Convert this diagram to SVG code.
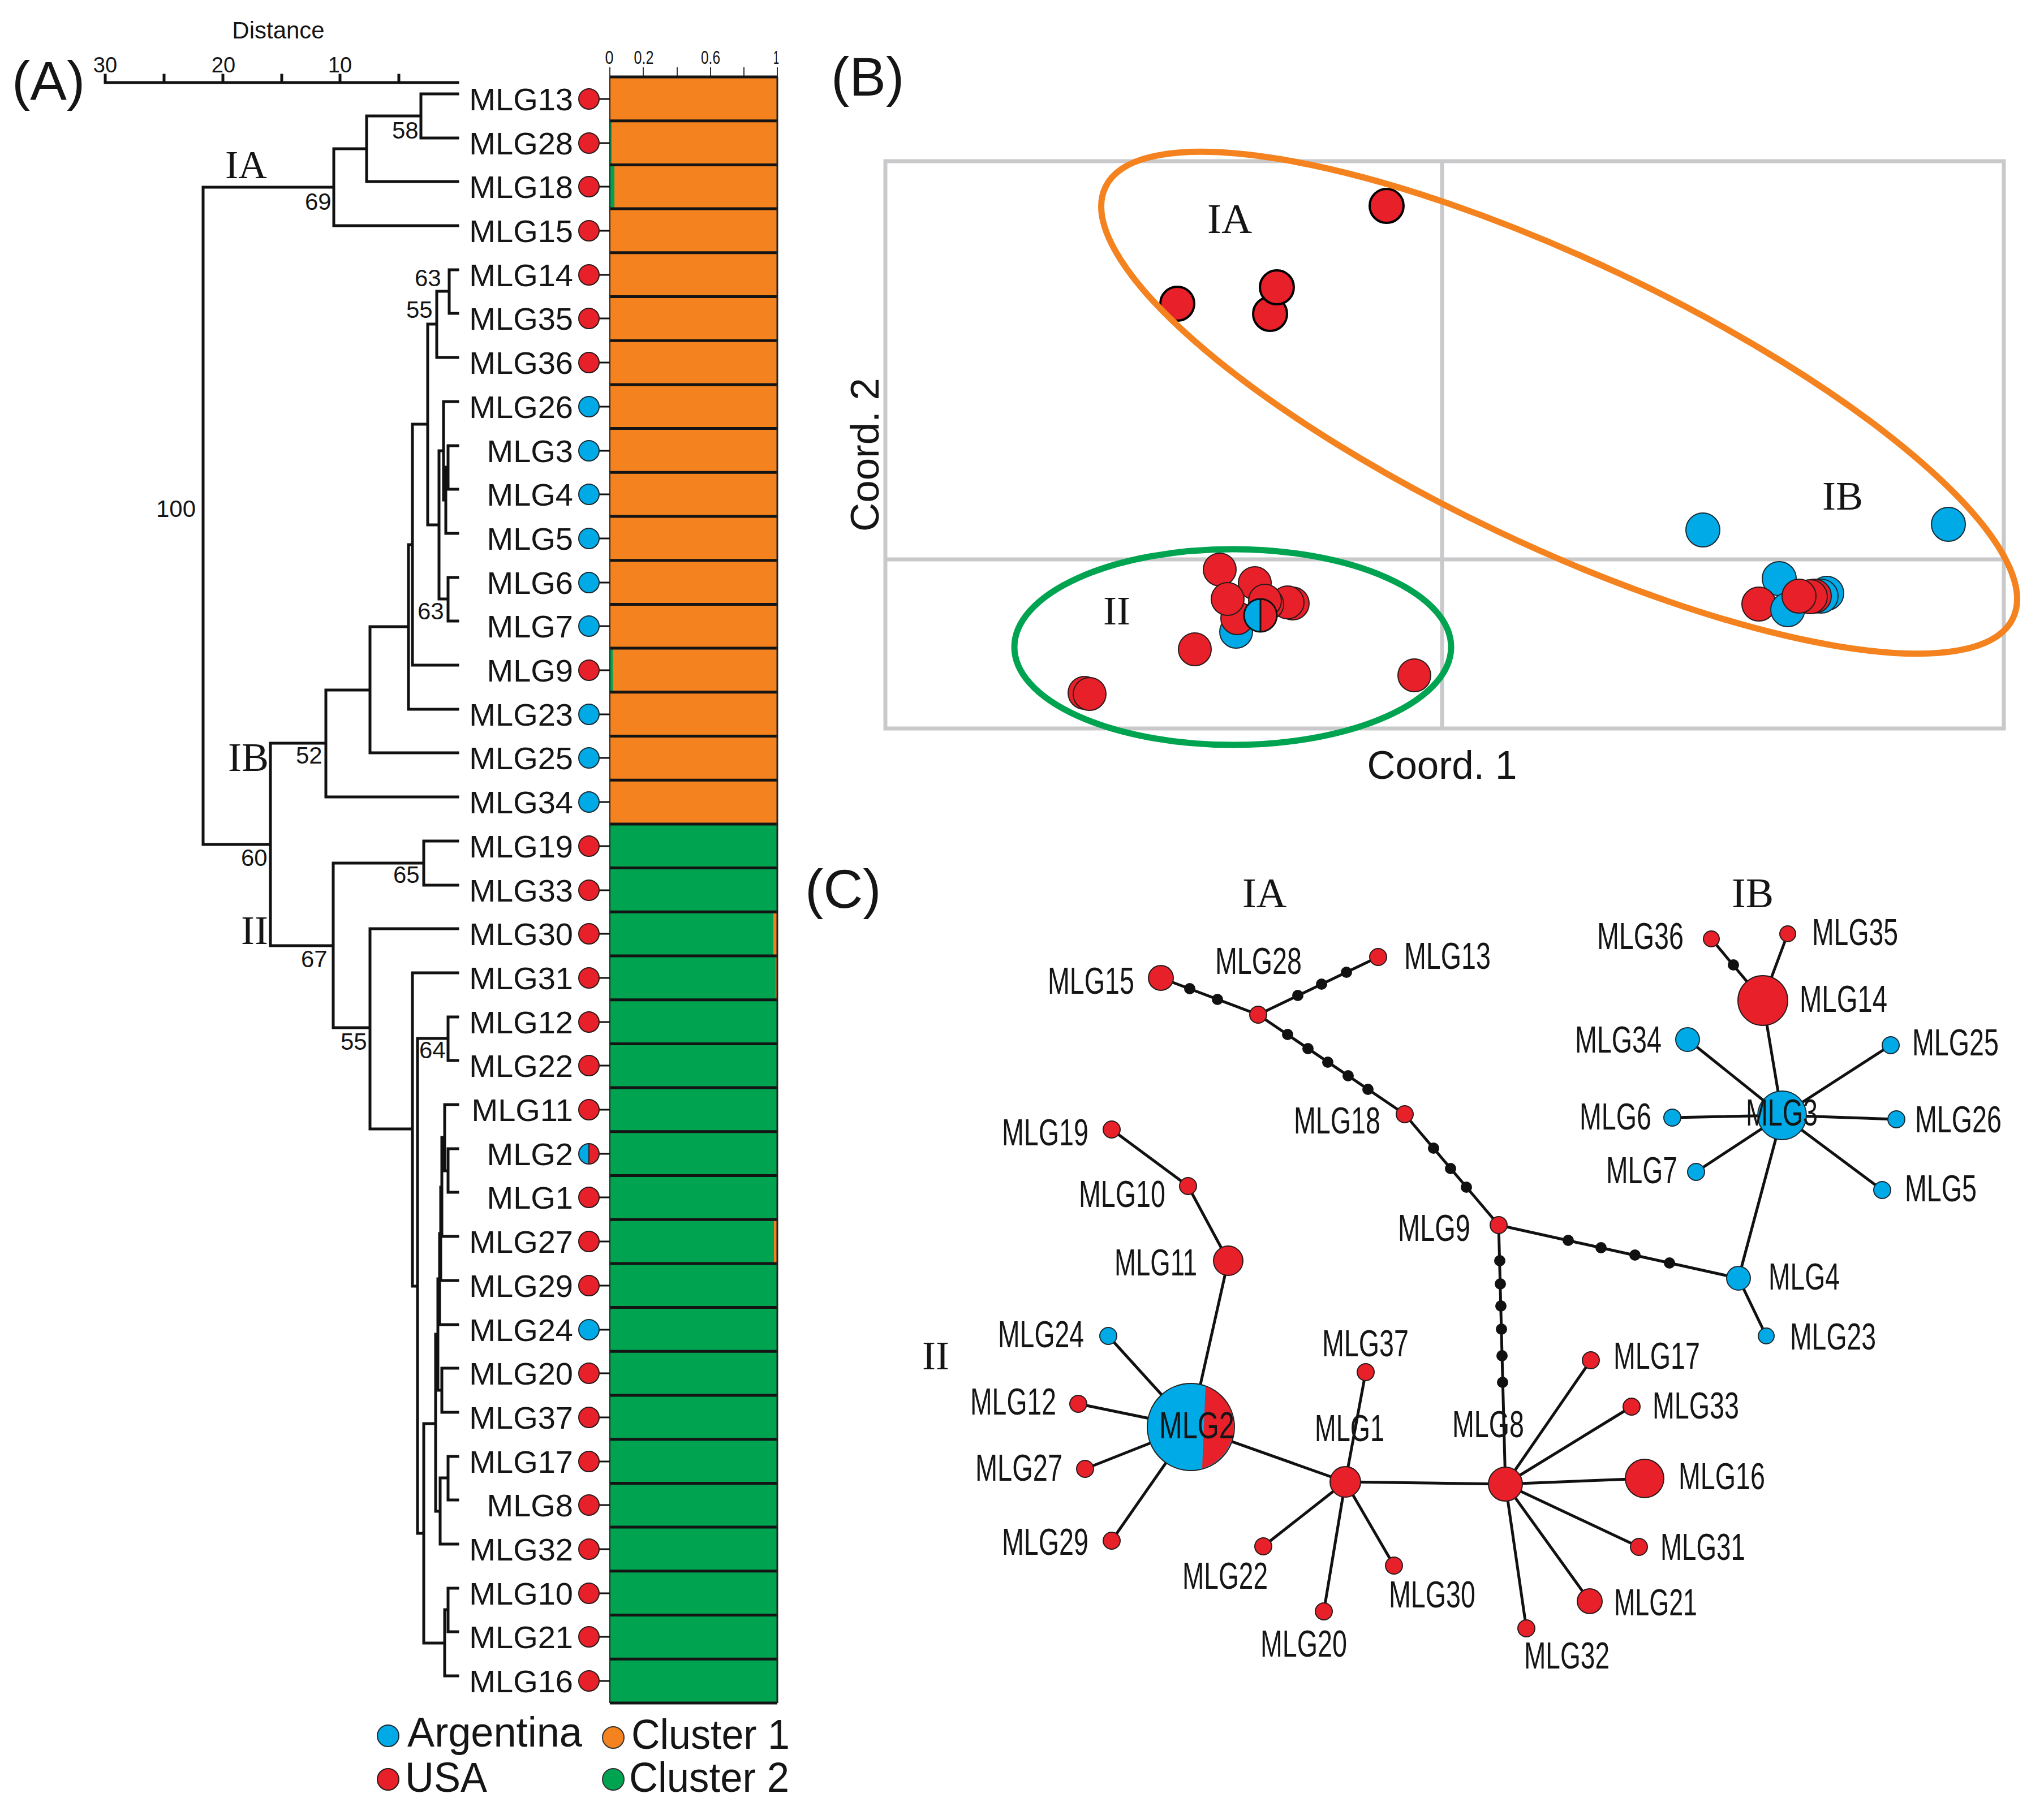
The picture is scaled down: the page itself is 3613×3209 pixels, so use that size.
<svg xmlns="http://www.w3.org/2000/svg" width="3613" height="3209" viewBox="0 0 3613 3209">
<style>
text{fill:#151515}
.s{font-family:"Liberation Sans",Arial,sans-serif}
.f{font-family:"Liberation Serif","Times New Roman",serif}
.lab{font-family:"Liberation Sans",Arial,sans-serif;font-size:56px;text-anchor:end}
.bs{font-family:"Liberation Sans",Arial,sans-serif;font-size:42px}
.c{font-family:"Liberation Sans",Arial,sans-serif;font-size:67px}
.r{fill:#E8202A;stroke:#2a1a1a;stroke-width:2}
.b{fill:#00AAE6;stroke:#1a2a33;stroke-width:2}
.o{fill:#F3821F;stroke:#333;stroke-width:2}
.g{fill:#00A350;stroke:#333;stroke-width:2}
.k{fill:#111}
.tree{fill:none;stroke:#111;stroke-width:5;stroke-linecap:square}
.e{stroke:#111;stroke-width:5;fill:none}
.tk{stroke:#111;stroke-width:3}
.grid{fill:none;stroke:#C9C9CB;stroke-width:7}
.ia{stroke:#000;stroke-width:4}
</style>
<rect width="3613" height="3209" fill="#fff"/>

<!-- ================= PANEL A ================= -->
<g id="panelA">
<text class="s" x="21" y="176" font-size="97">(A)</text>
<text class="s" x="492" y="68" font-size="42" text-anchor="middle">Distance</text>
<g id="distance-axis">
<path class="tree" stroke-width="4" d="M186 146H809 M186 133V146 M290 133V146 M394 133V146 M498 133V146 M601 133V146 M705 133V146"/>
<text class="s" x="186" y="128" font-size="38" text-anchor="middle">30</text>
<text class="s" x="395" y="128" font-size="38" text-anchor="middle">20</text>
<text class="s" x="601" y="128" font-size="38" text-anchor="middle">10</text>
</g>
<g id="bar-axis">
<path d="M1078 137H1374 M1078 119V137 M1137 119V137 M1197 119V137 M1256 119V137 M1315 119V137 M1374 119V137" stroke="#333" stroke-width="2" fill="none"/>
<text class="s" x="1077" y="113" font-size="34" text-anchor="middle" textLength="15" lengthAdjust="spacingAndGlyphs">0</text>
<text class="s" x="1138" y="113" font-size="34" text-anchor="middle" textLength="35" lengthAdjust="spacingAndGlyphs">0.2</text>
<text class="s" x="1256" y="113" font-size="34" text-anchor="middle" textLength="34" lengthAdjust="spacingAndGlyphs">0.6</text>
<text class="s" x="1372" y="113" font-size="34" text-anchor="middle" textLength="10" lengthAdjust="spacingAndGlyphs">1</text>
</g>

<g id="dendrogram">
<path class="tree" d="
M744 166V244 M744 166H809 M744 244H809
M648 205V321 M648 205H744 M648 321H809
M590 263V399 M590 263H648 M590 399H809
M359 331V1493 M359 331H590 M359 1493H478
M794 477V554 M794 477H809 M794 554H809
M772 515V632 M772 515H794 M772 632H809
M792 788V865 M792 788H809 M792 865H809
M788 826V943 M788 826H792 M788 943H809
M784 710V884 M784 710H809 M784 884H788
M792 1021V1098 M792 1021H809 M792 1098H809
M776 797V1059 M776 797H784 M776 1059H792
M756 573V928 M756 573H772 M756 928H776
M729 750V1176 M729 750H756 M729 1176H809
M722 963V1254 M722 963H729 M722 1254H809
M654 1108V1331 M654 1108H722 M654 1331H809
M576 1220V1409 M576 1220H654 M576 1409H809
M478 1314V1672 M478 1314H576 M478 1672H589
M749 1487V1565 M749 1487H809 M749 1565H809
M589 1526V1817 M589 1526H749 M589 1817H654
M654 1642V1996 M654 1642H809 M654 1996H729
M729 1720V2274 M729 1720H809 M729 2274H738
M792 1798V1875 M792 1798H809 M792 1875H809
M738 1836V2711 M738 1836H792 M738 2711H749
M749 2517V2905 M749 2517H770 M749 2905H786
M770 2359V2672 M770 2359H774 M770 2672H778
M792 2031V2108 M792 2031H809 M792 2108H809
M786 1953V2070 M786 1953H809 M786 2070H792
M781 2011V2186 M781 2011H786 M781 2186H809
M779 2099V2264 M779 2099H781 M779 2264H809
M777 2181V2342 M777 2181H779 M777 2342H809
M781 2419V2497 M781 2419H809 M781 2497H809
M774 2261V2458 M774 2261H777 M774 2458H781
M792 2575V2652 M792 2575H809 M792 2652H809
M778 2613V2730 M778 2613H792 M778 2730H809
M792 2808V2885 M792 2808H809 M792 2885H809
M786 2846V2963 M786 2846H792 M786 2963H809"/>
<text class="bs" x="693" y="245">58</text>
<text class="bs" x="539" y="371">69</text>
<text class="bs" x="733" y="506">63</text>
<text class="bs" x="718" y="562">55</text>
<text class="bs" x="276" y="914">100</text>
<text class="bs" x="738" y="1095">63</text>
<text class="bs" x="523" y="1350">52</text>
<text class="bs" x="426" y="1531">60</text>
<text class="bs" x="695" y="1561">65</text>
<text class="bs" x="532" y="1710">67</text>
<text class="bs" x="602" y="1856">55</text>
<text class="bs" x="741" y="1871">64</text>
<text class="f" x="398" y="315" font-size="70">IA</text>
<text class="f" x="403" y="1363" font-size="72">IB</text>
<text class="f" x="426" y="1669" font-size="72">II</text>
</g>

<g id="structure-bars">
<rect x="1078" y="136" width="296" height="1320.9" fill="#F3821F"/>
<rect x="1078" y="1456.9" width="296" height="1554" fill="#00A350"/>
<rect x="1078" y="213.7" width="3" height="77.7" fill="#00A350"/>
<rect x="1078" y="291.4" width="8" height="77.7" fill="#00A350"/>
<rect x="1078" y="1146.1" width="5" height="77.7" fill="#00A350"/>
<rect x="1367" y="1612.3" width="7" height="77.7" fill="#F3821F"/>
<rect x="1371" y="1690" width="3" height="77.7" fill="#F3821F"/>
<rect x="1368" y="2156.2" width="6" height="77.7" fill="#F3821F"/>
<path d="M1078 136H1374 M1078 213.7H1374 M1078 291.4H1374 M1078 369.1H1374 M1078 446.8H1374 M1078 524.5H1374 M1078 602.2H1374 M1078 679.9H1374 M1078 757.6H1374 M1078 835.3H1374 M1078 913H1374 M1078 990.7H1374 M1078 1068.4H1374 M1078 1146.1H1374 M1078 1223.8H1374 M1078 1301.5H1374 M1078 1379.2H1374 M1078 1456.9H1374 M1078 1534.6H1374 M1078 1612.3H1374 M1078 1690H1374 M1078 1767.7H1374 M1078 1845.4H1374 M1078 1923.1H1374 M1078 2000.8H1374 M1078 2078.5H1374 M1078 2156.2H1374 M1078 2233.9H1374 M1078 2311.6H1374 M1078 2389.3H1374 M1078 2467H1374 M1078 2544.7H1374 M1078 2622.4H1374 M1078 2700.1H1374 M1078 2777.8H1374 M1078 2855.5H1374 M1078 2933.2H1374 M1078 3010.9H1374" stroke="#141414" stroke-width="5" fill="none"/>
<path d="M1078 136V3011" stroke="#222" stroke-width="2"/>
<path d="M1374 136V3011" stroke="#222" stroke-width="3"/>
</g>

<g id="leaf-ticks">
<path class="tk" d="M1059 175H1078 M1059 253H1078 M1059 330H1078 M1059 408H1078 M1059 486H1078 M1059 563H1078 M1059 641H1078 M1059 719H1078 M1059 797H1078 M1059 874H1078 M1059 952H1078 M1059 1030H1078 M1059 1107H1078 M1059 1185H1078 M1059 1263H1078 M1059 1340H1078 M1059 1418H1078 M1059 1496H1078 M1059 1574H1078 M1059 1651H1078 M1059 1729H1078 M1059 1807H1078 M1059 1884H1078 M1059 1962H1078 M1059 2040H1078 M1059 2117H1078 M1059 2195H1078 M1059 2273H1078 M1059 2351H1078 M1059 2428H1078 M1059 2506H1078 M1059 2584H1078 M1059 2661H1078 M1059 2739H1078 M1059 2817H1078 M1059 2894H1078 M1059 2972H1078"/>
</g>

<g id="A-MLG13"><text class="lab" x="1013" y="195">MLG13</text><circle class="r" cx="1041" cy="175" r="18"/></g>
<g id="A-MLG28"><text class="lab" x="1013" y="273">MLG28</text><circle class="r" cx="1041" cy="253" r="18"/></g>
<g id="A-MLG18"><text class="lab" x="1013" y="350">MLG18</text><circle class="r" cx="1041" cy="330" r="18"/></g>
<g id="A-MLG15"><text class="lab" x="1013" y="428">MLG15</text><circle class="r" cx="1041" cy="408" r="18"/></g>
<g id="A-MLG14"><text class="lab" x="1013" y="506">MLG14</text><circle class="r" cx="1041" cy="486" r="18"/></g>
<g id="A-MLG35"><text class="lab" x="1013" y="583">MLG35</text><circle class="r" cx="1041" cy="563" r="18"/></g>
<g id="A-MLG36"><text class="lab" x="1013" y="661">MLG36</text><circle class="r" cx="1041" cy="641" r="18"/></g>
<g id="A-MLG26"><text class="lab" x="1013" y="739">MLG26</text><circle class="b" cx="1041" cy="719" r="18"/></g>
<g id="A-MLG3"><text class="lab" x="1013" y="817">MLG3</text><circle class="b" cx="1041" cy="797" r="18"/></g>
<g id="A-MLG4"><text class="lab" x="1013" y="894">MLG4</text><circle class="b" cx="1041" cy="874" r="18"/></g>
<g id="A-MLG5"><text class="lab" x="1013" y="972">MLG5</text><circle class="b" cx="1041" cy="952" r="18"/></g>
<g id="A-MLG6"><text class="lab" x="1013" y="1050">MLG6</text><circle class="b" cx="1041" cy="1030" r="18"/></g>
<g id="A-MLG7"><text class="lab" x="1013" y="1127">MLG7</text><circle class="b" cx="1041" cy="1107" r="18"/></g>
<g id="A-MLG9"><text class="lab" x="1013" y="1205">MLG9</text><circle class="r" cx="1041" cy="1185" r="18"/></g>
<g id="A-MLG23"><text class="lab" x="1013" y="1283">MLG23</text><circle class="b" cx="1041" cy="1263" r="18"/></g>
<g id="A-MLG25"><text class="lab" x="1013" y="1360">MLG25</text><circle class="b" cx="1041" cy="1340" r="18"/></g>
<g id="A-MLG34"><text class="lab" x="1013" y="1438">MLG34</text><circle class="b" cx="1041" cy="1418" r="18"/></g>
<g id="A-MLG19"><text class="lab" x="1013" y="1516">MLG19</text><circle class="r" cx="1041" cy="1496" r="18"/></g>
<g id="A-MLG33"><text class="lab" x="1013" y="1594">MLG33</text><circle class="r" cx="1041" cy="1574" r="18"/></g>
<g id="A-MLG30"><text class="lab" x="1013" y="1671">MLG30</text><circle class="r" cx="1041" cy="1651" r="18"/></g>
<g id="A-MLG31"><text class="lab" x="1013" y="1749">MLG31</text><circle class="r" cx="1041" cy="1729" r="18"/></g>
<g id="A-MLG12"><text class="lab" x="1013" y="1827">MLG12</text><circle class="r" cx="1041" cy="1807" r="18"/></g>
<g id="A-MLG22"><text class="lab" x="1013" y="1904">MLG22</text><circle class="r" cx="1041" cy="1884" r="18"/></g>
<g id="A-MLG11"><text class="lab" x="1013" y="1982">MLG11</text><circle class="r" cx="1041" cy="1962" r="18"/></g>
<g id="A-MLG2"><text class="lab" x="1013" y="2060">MLG2</text>
<path d="M1041 2022A18 18 0 0 0 1041 2058Z" fill="#00AAE6"/>
<path d="M1041 2022A18 18 0 0 1 1041 2058Z" fill="#E8202A"/>
<path d="M1041 2022V2058" stroke="#222" stroke-width="2"/>
<circle cx="1041" cy="2040" r="18" fill="none" stroke="#222" stroke-width="2"/></g>
<g id="A-MLG1"><text class="lab" x="1013" y="2137">MLG1</text><circle class="r" cx="1041" cy="2117" r="18"/></g>
<g id="A-MLG27"><text class="lab" x="1013" y="2215">MLG27</text><circle class="r" cx="1041" cy="2195" r="18"/></g>
<g id="A-MLG29"><text class="lab" x="1013" y="2293">MLG29</text><circle class="r" cx="1041" cy="2273" r="18"/></g>
<g id="A-MLG24"><text class="lab" x="1013" y="2371">MLG24</text><circle class="b" cx="1041" cy="2351" r="18"/></g>
<g id="A-MLG20"><text class="lab" x="1013" y="2448">MLG20</text><circle class="r" cx="1041" cy="2428" r="18"/></g>
<g id="A-MLG37"><text class="lab" x="1013" y="2526">MLG37</text><circle class="r" cx="1041" cy="2506" r="18"/></g>
<g id="A-MLG17"><text class="lab" x="1013" y="2604">MLG17</text><circle class="r" cx="1041" cy="2584" r="18"/></g>
<g id="A-MLG8"><text class="lab" x="1013" y="2681">MLG8</text><circle class="r" cx="1041" cy="2661" r="18"/></g>
<g id="A-MLG32"><text class="lab" x="1013" y="2759">MLG32</text><circle class="r" cx="1041" cy="2739" r="18"/></g>
<g id="A-MLG10"><text class="lab" x="1013" y="2837">MLG10</text><circle class="r" cx="1041" cy="2817" r="18"/></g>
<g id="A-MLG21"><text class="lab" x="1013" y="2914">MLG21</text><circle class="r" cx="1041" cy="2894" r="18"/></g>
<g id="A-MLG16"><text class="lab" x="1013" y="2992">MLG16</text><circle class="r" cx="1041" cy="2972" r="18"/></g>

<g id="legend">
<circle class="b" cx="686" cy="3069" r="19"/>
<text class="s" x="720" y="3088" font-size="74" textLength="309" lengthAdjust="spacingAndGlyphs">Argentina</text>
<circle class="r" cx="686" cy="3146" r="19"/>
<text class="s" x="716" y="3168" font-size="74" textLength="145" lengthAdjust="spacingAndGlyphs">USA</text>
<circle class="o" cx="1084" cy="3072" r="19"/>
<text class="s" x="1116" y="3092" font-size="74" textLength="280" lengthAdjust="spacingAndGlyphs">Cluster 1</text>
<circle class="g" cx="1084" cy="3146" r="19"/>
<text class="s" x="1112" y="3168" font-size="74" textLength="283" lengthAdjust="spacingAndGlyphs">Cluster 2</text>
</g>
</g>

<!-- ================= PANEL B ================= -->
<g id="panelB">
<text class="s" x="1469" y="169" font-size="97">(B)</text>
<rect class="grid" x="1565" y="285" width="1977" height="1003"/>
<path class="grid" d="M2549 285V1288 M1565 989H3542"/>
<text class="s" transform="translate(1553 804) rotate(-90)" font-size="70" text-anchor="middle" textLength="272" lengthAdjust="spacingAndGlyphs">Coord. 2</text>
<text class="s" x="2549" y="1377" font-size="70" text-anchor="middle" textLength="265" lengthAdjust="spacingAndGlyphs">Coord. 1</text>
<g id="B-IA-points">
<circle class="r ia" cx="2451" cy="364" r="30"/>
<circle class="r ia" cx="2081" cy="537" r="30"/>
<circle class="r ia" cx="2245" cy="555" r="30"/>
<circle class="r ia" cx="2257" cy="508" r="30"/>
</g>
<g id="B-IB-points">
<circle class="b" cx="3010" cy="937" r="30"/>
<circle class="b" cx="3444" cy="927" r="30"/>
<circle class="b" cx="3145" cy="1023" r="30"/>
<circle class="b" cx="3229" cy="1049" r="30"/>
<circle class="b" cx="3219" cy="1054" r="30"/>
<circle class="r" cx="3109" cy="1068" r="30"/>
<circle class="b" cx="3160" cy="1078" r="30"/>
<circle class="r" cx="3207" cy="1054" r="30"/>
<circle class="r" cx="3200" cy="1055" r="30"/>
<circle class="r" cx="3180" cy="1054" r="30"/>
</g>
<g id="B-II-points">
<circle class="r" cx="2156" cy="1007" r="29"/>
<circle class="r" cx="2218" cy="1031" r="29"/>
<circle class="r" cx="2285" cy="1067" r="29"/>
<circle class="r" cx="2276" cy="1065" r="29"/>
<circle class="b" cx="2185" cy="1117" r="29"/>
<circle class="r" cx="2187" cy="1093" r="29"/>
<circle class="r" cx="2170" cy="1059" r="29"/>
<circle class="r" cx="2240" cy="1068" r="29"/>
<circle class="r" cx="2236" cy="1062" r="29"/>
<g id="B-half">
<path d="M2228 1059A29 29 0 0 0 2228 1117Z" fill="#00AAE6"/>
<path d="M2228 1059A29 29 0 0 1 2228 1117Z" fill="#E8202A"/>
<path d="M2228 1059V1117" stroke="#111" stroke-width="3"/>
<circle cx="2228" cy="1088" r="29" fill="none" stroke="#111" stroke-width="3"/>
</g>
<circle class="r" cx="2112" cy="1148" r="29"/>
<circle class="r" cx="2500" cy="1194" r="29"/>
<circle class="r" cx="1917" cy="1225" r="29"/>
<circle class="r" cx="1926" cy="1227" r="29"/>
</g>
<ellipse cx="2756" cy="712" rx="888" ry="252" transform="rotate(25.4 2756 712)" fill="none" stroke="#F3821F" stroke-width="11"/>
<ellipse cx="2179" cy="1144" rx="386" ry="173" fill="none" stroke="#00A350" stroke-width="11"/>
<text class="f" x="2134" y="412" font-size="75">IA</text>
<text class="f" x="3221" y="901" font-size="72">IB</text>
<text class="f" x="1950" y="1104" font-size="72">II</text>
</g>

<!-- ================= PANEL C ================= -->
<g id="panelC">
<text class="s" x="1423" y="1605" font-size="97">(C)</text>
<text class="f" x="2196" y="1604" font-size="74">IA</text>
<text class="f" x="3061" y="1604" font-size="74">IB</text>
<text class="f" x="1630" y="2421" font-size="72">II</text>

<g id="connectors">
<path class="e" d="
M2052 1729L2224 1794 M2224 1794L2436 1692 M2224 1794L2483 1970 M2483 1970L2649 2166
M2649 2166L3073 2260 M2649 2166L2661 2624
M3073 2260L3150 1972 M3073 2260L3122 2362
M3150 1972L3116 1769 M3150 1972L2983 1838 M3150 1972L3342 1848 M3150 1972L2956 1976
M3150 1972L3352 1979 M3150 1972L2998 2072 M3150 1972L3327 2104
M3116 1769L3025 1660 M3116 1769L3160 1651
M1965 1997L2100 2097 M2100 2097L2171 2229 M2171 2229L2105 2523
M2105 2523L1959 2362 M2105 2523L1906 2482 M2105 2523L1918 2597 M2105 2523L1965 2724
M2105 2523L2378 2620
M2378 2620L2414 2426 M2378 2620L2233 2734 M2378 2620L2340 2849 M2378 2620L2464 2768
M2378 2620L2661 2624
M2661 2624L2812 2405 M2661 2624L2884 2487 M2661 2624L2907 2614 M2661 2624L2897 2735
M2661 2624L2810 2831 M2661 2624L2698 2879"/>
<g id="mutation-steps" class="k">
<circle cx="2103" cy="1748" r="10"/><circle cx="2152" cy="1767" r="10"/>
<circle cx="2294" cy="1760" r="10"/><circle cx="2336" cy="1740" r="10"/><circle cx="2380" cy="1719" r="10"/>
<circle cx="2276" cy="1829" r="10"/><circle cx="2312" cy="1854" r="10"/><circle cx="2347" cy="1878" r="10"/><circle cx="2383" cy="1902" r="10"/><circle cx="2418" cy="1926" r="10"/>
<circle cx="2534" cy="2030" r="10"/><circle cx="2564" cy="2066" r="10"/><circle cx="2592" cy="2099" r="10"/>
<circle cx="2772" cy="2193" r="10"/><circle cx="2830" cy="2206" r="10"/><circle cx="2890" cy="2219" r="10"/><circle cx="2951" cy="2233" r="10"/>
<circle cx="2651" cy="2229" r="10"/><circle cx="2652" cy="2270" r="10"/><circle cx="2653" cy="2309" r="10"/><circle cx="2654" cy="2350" r="10"/><circle cx="2655" cy="2397" r="10"/><circle cx="2656" cy="2444" r="10"/>
<circle cx="3064" cy="1706" r="10"/>
</g>
</g>

<g id="C-MLG15"><circle class="r" cx="2052" cy="1729" r="22"/><text class="c" x="1852" y="1757" textLength="153" lengthAdjust="spacingAndGlyphs">MLG15</text></g>
<g id="C-MLG28"><circle class="r" cx="2224" cy="1794" r="15"/><text class="c" x="2148" y="1722" textLength="153" lengthAdjust="spacingAndGlyphs">MLG28</text></g>
<g id="C-MLG13"><circle class="r" cx="2436" cy="1692" r="15"/><text class="c" x="2482" y="1713" textLength="153" lengthAdjust="spacingAndGlyphs">MLG13</text></g>
<g id="C-MLG18"><circle class="r" cx="2483" cy="1970" r="15"/><text class="c" x="2287" y="2004" textLength="153" lengthAdjust="spacingAndGlyphs">MLG18</text></g>
<g id="C-MLG9"><circle class="r" cx="2649" cy="2166" r="15"/><text class="c" x="2471" y="2194" textLength="128" lengthAdjust="spacingAndGlyphs">MLG9</text></g>
<g id="C-MLG4"><circle class="b" cx="3073" cy="2260" r="21"/><text class="c" x="3126" y="2280" textLength="126" lengthAdjust="spacingAndGlyphs">MLG4</text></g>
<g id="C-MLG23"><circle class="b" cx="3122" cy="2362" r="14"/><text class="c" x="3164" y="2386" textLength="152" lengthAdjust="spacingAndGlyphs">MLG23</text></g>
<g id="C-MLG14"><circle class="r" cx="3116" cy="1769" r="44"/><text class="c" x="3181" y="1789" textLength="155" lengthAdjust="spacingAndGlyphs">MLG14</text></g>
<g id="C-MLG36"><circle class="r" cx="3025" cy="1660" r="14"/><text class="c" x="2823" y="1678" textLength="153" lengthAdjust="spacingAndGlyphs">MLG36</text></g>
<g id="C-MLG35"><circle class="r" cx="3160" cy="1651" r="14"/><text class="c" x="3203" y="1671" textLength="152" lengthAdjust="spacingAndGlyphs">MLG35</text></g>
<g id="C-MLG34"><circle class="b" cx="2983" cy="1838" r="21"/><text class="c" x="2784" y="1861" textLength="153" lengthAdjust="spacingAndGlyphs">MLG34</text></g>
<g id="C-MLG25"><circle class="b" cx="3342" cy="1848" r="15"/><text class="c" x="3380" y="1866" textLength="153" lengthAdjust="spacingAndGlyphs">MLG25</text></g>
<g id="C-MLG6"><circle class="b" cx="2956" cy="1976" r="15"/><text class="c" x="2792" y="1997" textLength="127" lengthAdjust="spacingAndGlyphs">MLG6</text></g>
<g id="C-MLG26"><circle class="b" cx="3352" cy="1979" r="15"/><text class="c" x="3385" y="2002" textLength="153" lengthAdjust="spacingAndGlyphs">MLG26</text></g>
<g id="C-MLG7"><circle class="b" cx="2998" cy="2072" r="15"/><text class="c" x="2839" y="2092" textLength="126" lengthAdjust="spacingAndGlyphs">MLG7</text></g>
<g id="C-MLG5"><circle class="b" cx="3327" cy="2104" r="15"/><text class="c" x="3367" y="2124" textLength="127" lengthAdjust="spacingAndGlyphs">MLG5</text></g>
<g id="C-MLG3"><circle class="b" cx="3150" cy="1972" r="43"/><text class="c" x="3086" y="1990" textLength="127" lengthAdjust="spacingAndGlyphs">MLG3</text></g>
<g id="C-MLG19"><circle class="r" cx="1965" cy="1997" r="15"/><text class="c" x="1771" y="2025" textLength="153" lengthAdjust="spacingAndGlyphs">MLG19</text></g>
<g id="C-MLG10"><circle class="r" cx="2100" cy="2097" r="15"/><text class="c" x="1907" y="2134" textLength="153" lengthAdjust="spacingAndGlyphs">MLG10</text></g>
<g id="C-MLG11"><circle class="r" cx="2171" cy="2229" r="26"/><text class="c" x="1970" y="2255" textLength="146" lengthAdjust="spacingAndGlyphs">MLG11</text></g>
<g id="C-MLG24"><circle class="b" cx="1959" cy="2362" r="15"/><text class="c" x="1764" y="2382" textLength="152" lengthAdjust="spacingAndGlyphs">MLG24</text></g>
<g id="C-MLG12"><circle class="r" cx="1906" cy="2482" r="15"/><text class="c" x="1715" y="2501" textLength="152" lengthAdjust="spacingAndGlyphs">MLG12</text></g>
<g id="C-MLG27"><circle class="r" cx="1918" cy="2597" r="15"/><text class="c" x="1724" y="2618" textLength="154" lengthAdjust="spacingAndGlyphs">MLG27</text></g>
<g id="C-MLG29"><circle class="r" cx="1965" cy="2724" r="15"/><text class="c" x="1771" y="2749" textLength="153" lengthAdjust="spacingAndGlyphs">MLG29</text></g>
<g id="C-MLG2">
<circle cx="2105" cy="2523" r="77" fill="#00AAE6"/>
<path d="M2131 2450A77 77 0 0 1 2125 2596Z" fill="#E8202A"/>
<circle cx="2105" cy="2523" r="77" fill="none" stroke="#222" stroke-width="2"/>
<text class="c" x="2049" y="2543" textLength="133" lengthAdjust="spacingAndGlyphs">MLG2</text></g>
<g id="C-MLG37"><circle class="r" cx="2414" cy="2426" r="15"/><text class="c" x="2337" y="2398" textLength="153" lengthAdjust="spacingAndGlyphs">MLG37</text></g>
<g id="C-MLG22"><circle class="r" cx="2233" cy="2734" r="15"/><text class="c" x="2090" y="2809" textLength="151" lengthAdjust="spacingAndGlyphs">MLG22</text></g>
<g id="C-MLG20"><circle class="r" cx="2340" cy="2849" r="15"/><text class="c" x="2228" y="2929" textLength="153" lengthAdjust="spacingAndGlyphs">MLG20</text></g>
<g id="C-MLG30"><circle class="r" cx="2464" cy="2768" r="15"/><text class="c" x="2455" y="2842" textLength="153" lengthAdjust="spacingAndGlyphs">MLG30</text></g>
<g id="C-MLG1"><circle class="r" cx="2378" cy="2620" r="27"/><text class="c" x="2324" y="2548" textLength="123" lengthAdjust="spacingAndGlyphs">MLG1</text></g>
<g id="C-MLG17"><circle class="r" cx="2812" cy="2405" r="15"/><text class="c" x="2852" y="2420" textLength="153" lengthAdjust="spacingAndGlyphs">MLG17</text></g>
<g id="C-MLG33"><circle class="r" cx="2884" cy="2487" r="15"/><text class="c" x="2921" y="2508" textLength="153" lengthAdjust="spacingAndGlyphs">MLG33</text></g>
<g id="C-MLG16"><circle class="r" cx="2907" cy="2614" r="34"/><text class="c" x="2967" y="2633" textLength="153" lengthAdjust="spacingAndGlyphs">MLG16</text></g>
<g id="C-MLG31"><circle class="r" cx="2897" cy="2735" r="15"/><text class="c" x="2935" y="2758" textLength="150" lengthAdjust="spacingAndGlyphs">MLG31</text></g>
<g id="C-MLG21"><circle class="r" cx="2810" cy="2831" r="22"/><text class="c" x="2853" y="2856" textLength="147" lengthAdjust="spacingAndGlyphs">MLG21</text></g>
<g id="C-MLG32"><circle class="r" cx="2698" cy="2879" r="15"/><text class="c" x="2694" y="2950" textLength="151" lengthAdjust="spacingAndGlyphs">MLG32</text></g>
<g id="C-MLG8"><circle class="r" cx="2661" cy="2624" r="30"/><text class="c" x="2567" y="2541" textLength="127" lengthAdjust="spacingAndGlyphs">MLG8</text></g>
</g>
</svg>
